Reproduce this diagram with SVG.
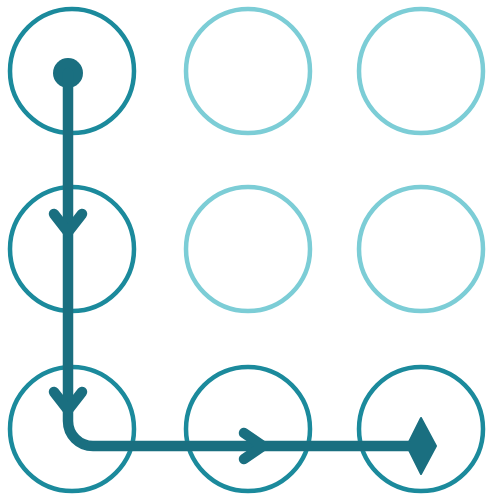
<svg xmlns="http://www.w3.org/2000/svg" width="487" height="495" viewBox="0 0 487 495">
<style>
.c{fill:none;stroke-width:4.5}
.dk{stroke:#1b8a9c}
.lt{stroke:#7ccdd6}
.p{fill:none;stroke:#1a6f80;stroke-width:10.5;stroke-linecap:round;stroke-linejoin:round}
</style>
<rect width="487" height="495" fill="#ffffff"/>
<g id="n11"><circle class="c dk" cx="72" cy="71" r="62"/></g>
<g id="n12"><circle class="c lt" cx="248" cy="71" r="62"/></g>
<g id="n13"><circle class="c lt" cx="421" cy="71" r="62"/></g>
<g id="n21"><circle class="c dk" cx="72" cy="249" r="62"/></g>
<g id="n22"><circle class="c lt" cx="248" cy="249" r="62"/></g>
<g id="n23"><circle class="c lt" cx="421" cy="249" r="62"/></g>
<g id="n31"><circle class="c dk" cx="72" cy="429" r="62"/></g>
<g id="n32"><circle class="c dk" cx="248" cy="429" r="62"/></g>
<g id="n33"><circle class="c dk" cx="421" cy="429" r="62"/></g>
<g id="connectors">
<circle cx="68" cy="73" r="15" fill="#1a6f80"/>
<path class="p" d="M68 73 L68 421 A25 25 0 0 0 93 446 L414 446"/>
<path class="p" d="M54 214 L68 232 L82 214"/>
<path class="p" d="M54 392 L68 410 L82 392"/>
<path class="p" d="M244 433 L263 446 L244 459"/>
<path d="M407 446 L421 418 L436 446 L421 474 Z" fill="#1a6f80" stroke="#1a6f80" stroke-width="2" stroke-linejoin="round"/>
</g>
</svg>
